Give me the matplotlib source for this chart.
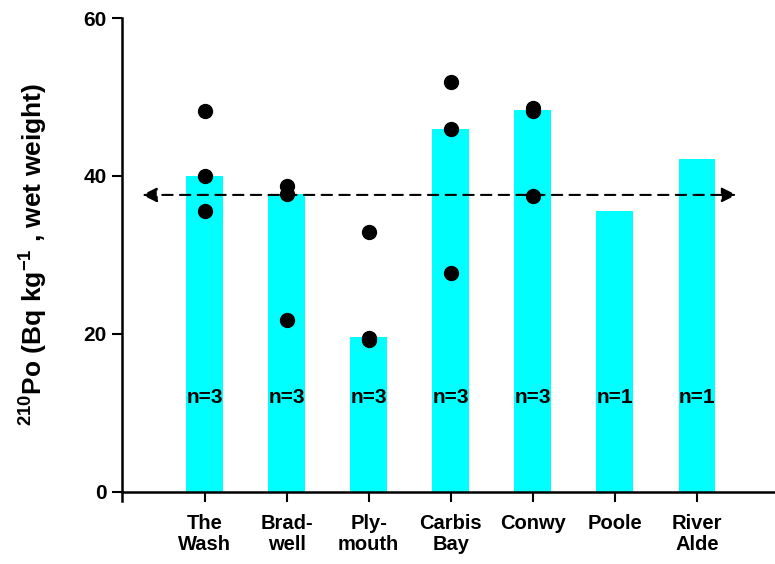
import numpy as np
import matplotlib
matplotlib.use("Agg")
import matplotlib.pyplot as plt

plt.rcParams['font.family'] = ['Liberation Sans', 'DejaVu Sans']
plt.rcParams['font.weight'] = 'bold'
plt.rcParams['mathtext.fontset'] = 'custom'
plt.rcParams['mathtext.rm'] = 'Liberation Sans:bold'
plt.rcParams['mathtext.bf'] = 'Liberation Sans:bold'
plt.rcParams['mathtext.default'] = 'rm'

# sites and measured values
sites = ["The\nWash", "Brad-\nwell", "Ply-\nmouth", "Carbis\nBay", "Conwy", "Poole", "River\nAlde"]
bar_values = [40.0, 37.7, 19.6, 45.9, 48.4, 35.6, 42.2]
samples = [
    [48.2, 40.0, 35.6],
    [38.7, 37.7, 21.8],
    [32.9, 19.5, 19.2],
    [51.9, 45.9, 27.7],
    [48.6, 48.2, 37.4],
    [],
    [],
]
n_labels = ["n=3", "n=3", "n=3", "n=3", "n=3", "n=1", "n=1"]
reference_level = 37.6

fig = plt.figure(figsize=(7.75, 5.64), dpi=100)
ax = fig.add_axes([0.157, 0.128, 0.843, 0.840])

x = np.arange(len(sites))
ax.bar(x, bar_values, width=0.45, color='#00FFFF', zorder=1)

for i, pts in enumerate(samples):
    if pts:
        ax.plot([i] * len(pts), pts, 'o', color='black', ms=10, zorder=3, clip_on=False)

for i, lab in enumerate(n_labels):
    ax.text(i, 12, lab, ha='center', va='center', fontsize=15, fontweight='bold', zorder=4)

# dashed reference line with arrows at both ends
ax.annotate('', xy=(6.48, reference_level), xytext=(-0.76, reference_level),
            arrowprops=dict(arrowstyle='<|-|>', linestyle=(0, (5, 3.5)), color='black',
                            lw=1.5, mutation_scale=22, shrinkA=0, shrinkB=0), zorder=2)

ax.set_xlim(-1.01, 6.95)
ax.set_ylim(0, 60)
ax.set_yticks([0, 20, 40, 60])
ax.set_xticks(x)
ax.set_xticklabels(sites, fontsize=14.5, fontweight='bold', linespacing=1.15)
ax.tick_params(axis='y', labelsize=15, length=7, width=1.5, pad=4)
ax.tick_params(axis='x', length=7, width=1.5, pad=9)

for s in ['top', 'right']:
    ax.spines[s].set_visible(False)
for s in ['left', 'bottom']:
    ax.spines[s].set_linewidth(1.8)

# small extension of the y axis below zero
ax.plot([0, 0], [0, -0.02], transform=ax.transAxes, color='black', lw=1.8, clip_on=False)

ax.set_ylabel(r'$^{210}$Po (Bq kg$^{-1}$ , wet weight)', fontsize=19, fontweight='bold')
ax.yaxis.set_label_coords(-0.11, 0.5)

fig.savefig("out.png", dpi=100)
